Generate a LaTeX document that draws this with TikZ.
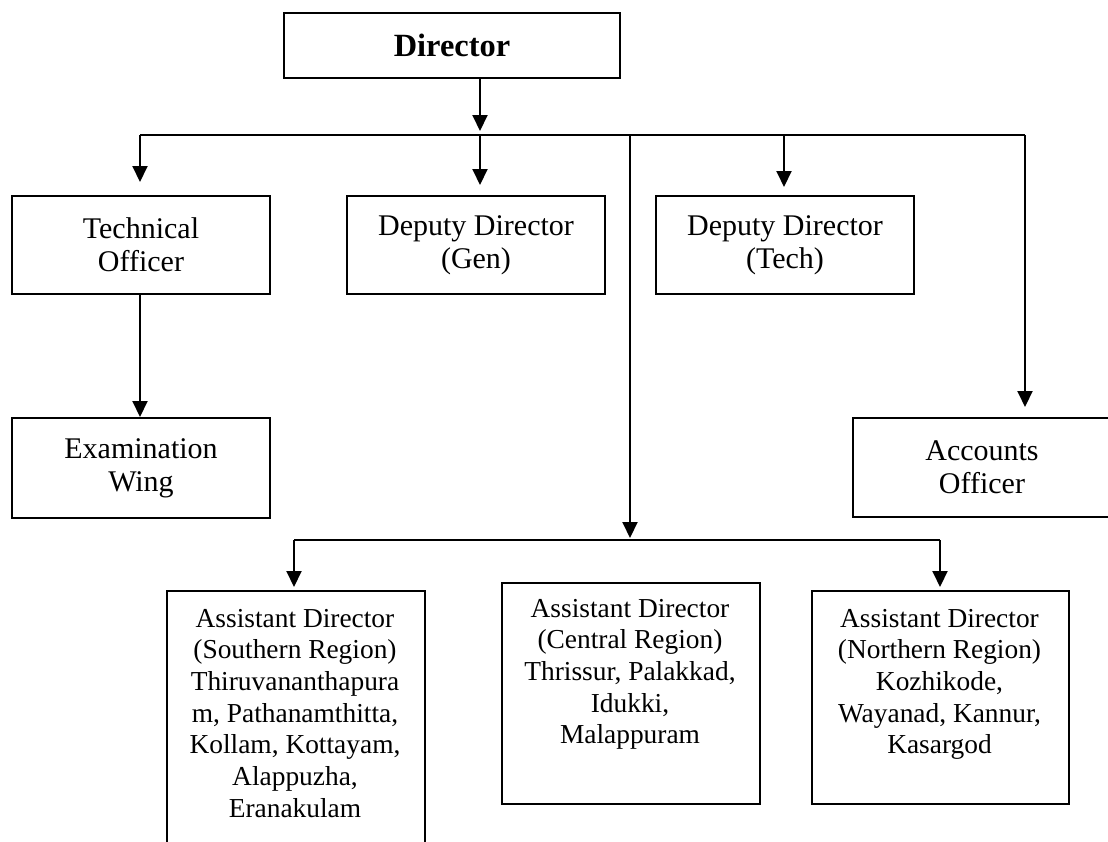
\documentclass[tikz,border=0pt]{standalone}
\usepackage{fontspec}
\setmainfont{Liberation Serif}
\usetikzlibrary{arrows.meta}

\begin{document}
\begin{tikzpicture}[x=0.5pt,y=-0.5pt,
  box/.style={draw, line width=1pt, rectangle, inner sep=0pt, anchor=north west,
              align=center, font=\fontsize{15}{16.5}\selectfont},
  topbox/.style={box, minimum width=129pt, minimum height=49pt},
  regbox/.style={draw, line width=1pt, rectangle, inner sep=0pt, anchor=north west,
                 minimum width=129pt},
  regtext/.style={anchor=north, inner sep=0pt, align=center,
                  font=\fontsize{13.7}{15.85}\selectfont},
  link/.style={line width=1pt},
  arr/.style={line width=1pt, -{Triangle[length=8pt,width=7.5pt]}}
]
\useasboundingbox (0,0) rectangle (1108,841);
\clip (0,0) rectangle (1108,841);

% head of the office
\node[box, minimum width=168pt, minimum height=32.5pt,
      font=\fontsize{16.2}{18}\selectfont\bfseries] (dir) at (283,12) {Director};

% second level
\node[topbox] (tech)  at (11,195)  {Technical\\Officer};
\node[topbox] (dgen)  at (346,195) {Deputy Director\\(Gen)};
\node[topbox] (dtech) at (655,195) {Deputy Director\\(Tech)};

% third level
\node[topbox, minimum height=50pt] (exam) at (11,417)  {Examination\\Wing};
\node[topbox, minimum height=49.5pt] (acct) at (852,417) {Accounts\\Officer};

% regional offices
\node[regbox, minimum height=140pt] (south) at (166,590) {};
\node[regbox, minimum height=110.5pt] (central) at (501,582) {};
\node[regbox, minimum width=128.5pt, minimum height=106.5pt] (north) at (811,590) {};

\node[regtext] (southT) at (295,608.5)
  {Assistant Director\\(Southern Region)\\Thiruvananthapura\\m, Pathanamthitta,\\Kollam, Kottayam,\\Alappuzha,\\Eranakulam};
\node[regtext] (centralT) at (630,598.5)
  {Assistant Director\\(Central Region)\\Thrissur, Palakkad,\\Idukki,\\Malappuram};
\node[regtext] (northT) at (939.5,608.5)
  {Assistant Director\\(Northern Region)\\Kozhikode,\\Wayanad, Kannur,\\Kasargod};

% bus lines
\coordinate (busL) at (140,135);
\coordinate (busR) at (1025,135);
\coordinate (busD) at (480,135);
\coordinate (busC) at (630,135);
\coordinate (busT) at (784,135);
\coordinate (regL) at (294,540);
\coordinate (regR) at (940,540);
\coordinate (regC) at (630,540);

\draw[link] (busL) -- (busR);
\draw[link] (regL) -- (regR);

% connectors
\draw[arr, shorten >=2pt] (dir.south -| busD) -- (busD);
\draw[arr, shorten >=6.5pt] (busL) -- (tech.north -| busL);
\draw[arr, shorten >=5pt] (busD) -- (dgen.north -| busD);
\draw[arr, shorten >=4pt] (busT) -- (dtech.north -| busT);
\draw[arr, shorten >=5pt] (busR) -- (acct.north -| busR);
\draw[arr, shorten >=1pt] (busC) -- (regC);
\draw[arr] (tech.south -| busL) -- (exam.north -| busL);
\draw[arr, shorten >=1.5pt] (regL) -- (south.north -| regL);
\draw[arr, shorten >=1.5pt] (regR) -- (north.north -| regR);
\end{tikzpicture}
\end{document}
